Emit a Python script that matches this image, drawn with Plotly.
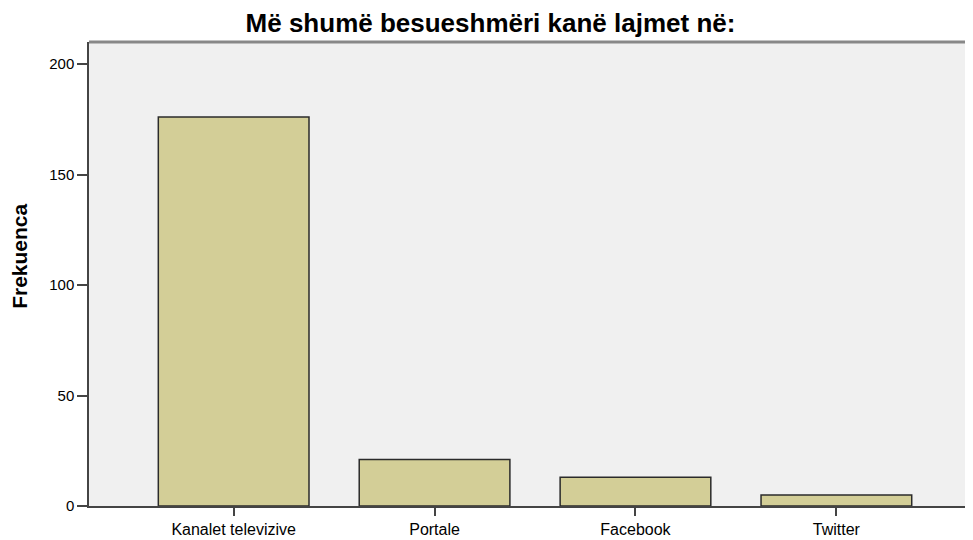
import plotly.graph_objects as go

categories = ["Kanalet televizive", "Portale", "Facebook", "Twitter"]
frequencies = [176, 21, 13, 5]
y_tick_values = [0, 50, 100, 150, 200]

W, H = 965, 532
L, R, T, B = 81, 0, 34, 34

fig = go.Figure()
fig.add_trace(go.Bar(
    x=categories, y=frequencies, width=0.75,
    marker=dict(color="#D3CE97", line=dict(color="#2b2b2b", width=1.5)),
))

fig.update_layout(
    width=W, height=H,
    margin=dict(l=L, r=R, t=T, b=B, autoexpand=False),
    paper_bgcolor="white", plot_bgcolor="#F0F0F0",
    showlegend=False,
    font=dict(family="Liberation Sans, Arial, sans-serif", color="#000"),
    title=dict(text="<b>Më shumë besueshmëri kanë lajmet në:</b>", x=0.5, xanchor="center",
               xref="container", yref="container",
               y=1 - 15 / H, yanchor="middle", font=dict(size=26)),
)
fig.update_xaxes(
    range=[-0.72, 3.68], showgrid=False, zeroline=False,
    showline=True, linecolor="#444", linewidth=1.5,
    ticks="outside", ticklen=8, tickwidth=2, tickcolor="#444",
    tickfont=dict(size=16), fixedrange=True,
)
fig.update_yaxes(
    range=[0, 210], tickvals=y_tick_values, showgrid=False, zeroline=False,
    showline=True, linecolor="#444", linewidth=1.5,
    ticks="outside", ticklen=10, tickwidth=1.5, tickcolor="#444",
    tickfont=dict(size=15),
)
fig.add_annotation(
    text="<b>Frekuenca</b>", xref="paper", yref="paper",
    x=(12 - L) / (W - L - R), y=0.537, textangle=-90, showarrow=False,
    xanchor="center", yanchor="middle", font=dict(size=21),
)
fig.add_shape(type="line", xref="paper", yref="paper", x0=0, x1=1, y0=1, y1=1,
              line=dict(color="#888", width=3))

fig.write_html("out.html")
